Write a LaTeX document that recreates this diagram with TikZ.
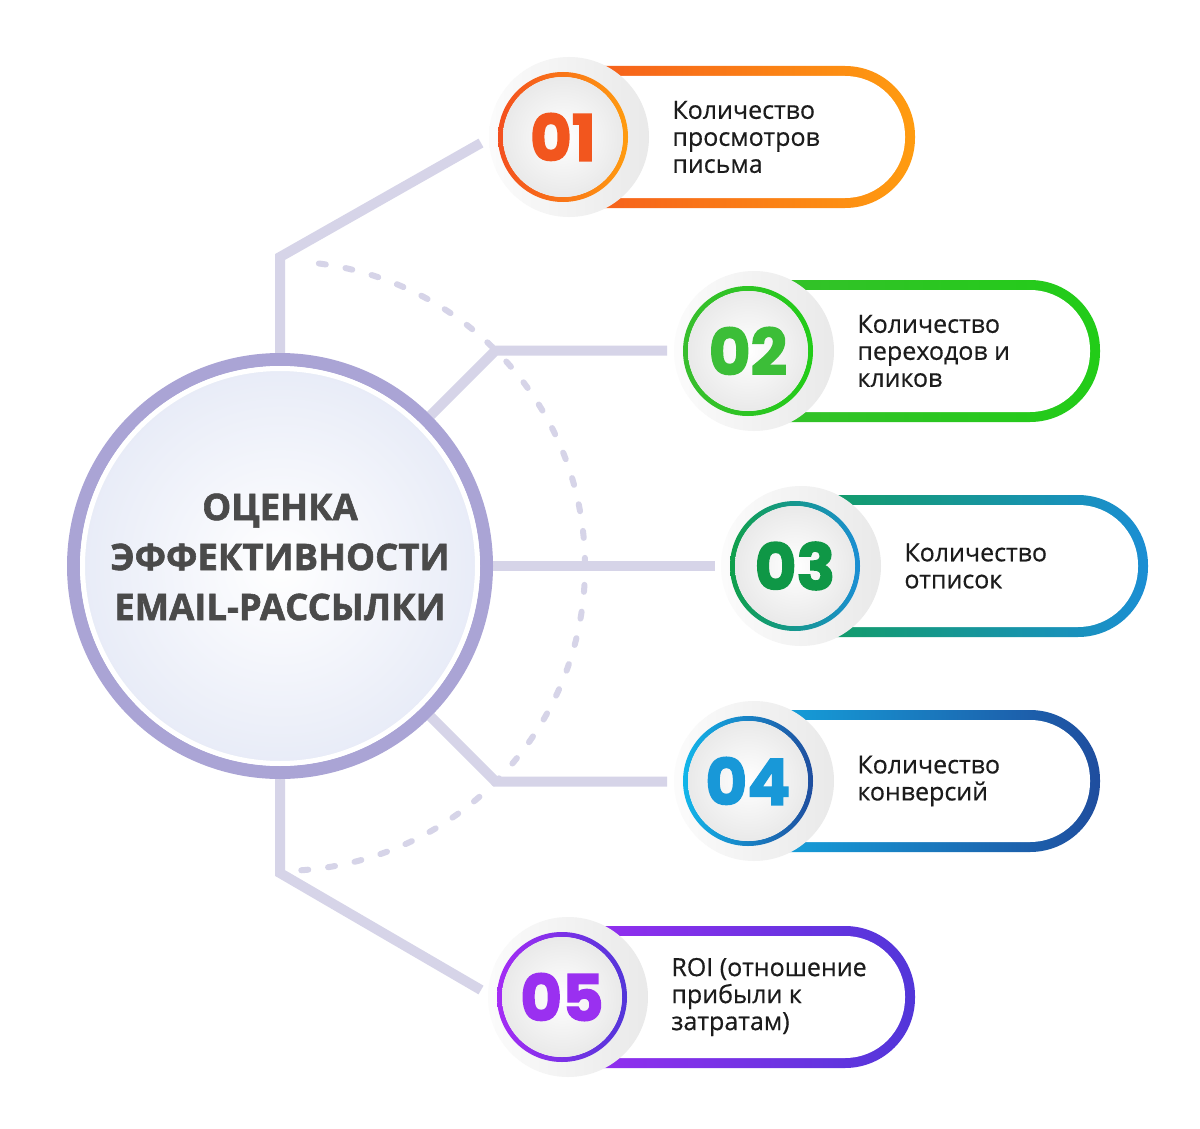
\documentclass[tikz,border=0pt]{standalone}
\usepackage{fontspec}
\setmainfont{Open Sans}[FakeBold=0.5]
\newfontfamily\headfont{Open Sans}[BoldFeatures={FakeBold=1.6}]
\newfontfamily\numfont{Poppins}[BoldFeatures={FakeBold=2.2}]
\usetikzlibrary{calc,positioning}
\pgfdeclarelayer{back}
\pgfsetlayers{back,main}

\definecolor{linkgray}{HTML}{D6D4E8}
\definecolor{hubring}{HTML}{AAA4D5}
\definecolor{hubfill}{HTML}{E7EBF7}
\definecolor{headgray}{HTML}{4A4A4A}
\definecolor{inkblack}{HTML}{1C1C1C}
\definecolor{oneA}{HTML}{F34F1F}
\definecolor{oneB}{HTML}{FF9C10}
\definecolor{oneN}{HTML}{F2561E}
\definecolor{twoA}{HTML}{38BE2E}
\definecolor{twoB}{HTML}{22CC18}
\definecolor{twoN}{HTML}{3CBE38}
\definecolor{threeA}{HTML}{10A04A}
\definecolor{threeB}{HTML}{1B8ED4}
\definecolor{threeN}{HTML}{0F9746}
\definecolor{fourA}{HTML}{12B6EA}
\definecolor{fourB}{HTML}{1F4D9E}
\definecolor{fourN}{HTML}{1898D8}
\definecolor{fiveA}{HTML}{A52CF5}
\definecolor{fiveB}{HTML}{5236D9}
\definecolor{fiveN}{HTML}{9A30F0}

\tikzset{
	link/.style={draw=linkgray, line width=10pt, line join=miter},
	dashline/.style={draw=linkgray, line width=6pt, line cap=round, dash pattern=on 7pt off 20pt},
	hubnode/.style={circle, minimum size=413pt, inner sep=0pt, draw=hubring, line width=13pt, inner color=white, outer color=hubfill},
	heading/.style={align=center, inner sep=0pt, font=\headfont\fontsize{36.5}{50}\selectfont\bfseries, text=headgray},
	badge/.style={circle, minimum size=130pt, inner sep=0pt, font=\numfont\fontsize{64}{64}\selectfont\bfseries},
	itemtext/.style={anchor=west, align=left, inner sep=0pt, font=\fontsize{25}{27}\selectfont, text=inkblack},
}

% #1 name, #2 #3 badge centre, #4 right end of pill, #5 #6 gradient, #7 number colour, #8 number, #9 text
\newcommand\metric[9]{%
	\shade[left color=#5, right color=#6, rounded corners=70pt] (#2-60,#3-71) rectangle (#4,#3+71);
	\fill[white, rounded corners=60pt] (#2-50,#3-61) rectangle (#4-10,#3+61);
	\shade[left color=gray!3, right color=gray!17] (#2+6,#3) circle (80);
	\shade[left color=#5, right color=#6, even odd rule] (#2,#3) circle (65) circle (60);
	\shade[inner color=white, outer color=gray!17] (#2,#3) circle (60);
	\node[badge, text=#7] (#1) at (#2,#3) {#8};
	\node[itemtext, right=44pt of #1] (#1t) {#9};
}

\begin{document}
\begin{tikzpicture}[x=1pt, y=-1pt]
		%%%%% START %%%%%
		\useasboundingbox (0,0) rectangle (1200,1129);
		
		\node[hubnode] (hub) at (280,566) {};
		\draw[white, line width=5pt] (hub.center) circle (197.5);
		\node[heading] (head) at (280,557) {ОЦЕНКА\\ЭФФЕКТИВНОСТИ\\EMAIL-РАССЫЛКИ};
		
		\metric{b1}{563}{137}{915}{oneA}{oneB}{oneN}{01}{Количество\\просмотров\\письма}
		\metric{b2}{748}{351}{1100}{twoA}{twoB}{twoN}{02}{Количество\\переходов и\\кликов}
		\metric{b3}{795}{566}{1148}{threeA}{threeB}{threeN}{03}{Количество\\отписок}
		\metric{b4}{748}{781}{1100}{fourA}{fourB}{fourN}{04}{Количество\\конверсий}
		\metric{b5}{562}{997}{915}{fiveA}{fiveB}{fiveN}{05}{ROI (отношение\\прибыли к\\затратам)}
		
		\coordinate (k1) at (280,257);
		\coordinate (e1) at (481,143);
		\coordinate (k2) at (495.5,350.5);
		\coordinate (e2) at (667,350.5);
		\coordinate (e3) at (715,566);
		\coordinate (k4) at (495.5,781.5);
		\coordinate (e4) at (667,781.5);
		\coordinate (k5) at (280,873);
		\coordinate (e5) at (481,990);
		
		\begin{pgfonlayer}{back}
		\fill[white] (0,0) rectangle (1200,1129);
		\draw[dashline] (hub.center) ++(86:305) arc (86:-86:305);
		\draw[link] (hub.north) -- (k1) -- (e1);
		\draw[link] (hub.45) -- (k2) -- (e2);
		\draw[link] (hub.east) -- (e3);
		\draw[link] (hub.-45) -- (k4) -- (e4);
		\draw[link] (hub.south) -- (k5) -- (e5);
		\end{pgfonlayer}
		
		%%%%% END %%%%%
\end{tikzpicture}
\end{document}
